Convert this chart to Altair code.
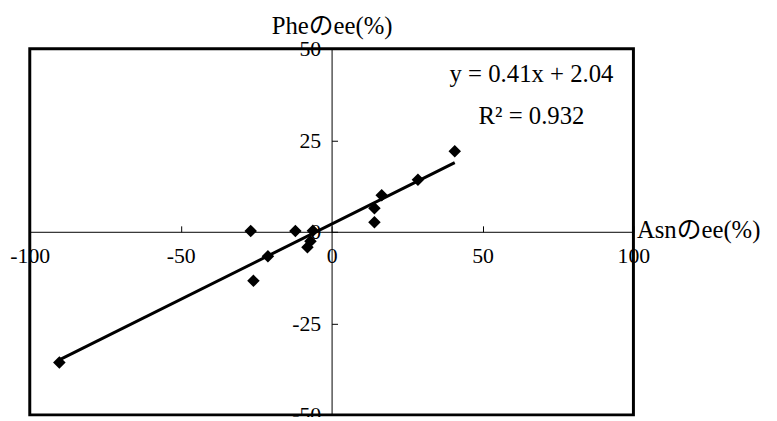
import altair as alt
import pandas as pd

# data
asn_ee = [-90.2, -26.8, -25.9, -21.1, -12.0, -6.2, -7.0, -8.0, 14.2, 14.2, 16.6, 28.6, 40.8]
phe_ee = [-35.7, 0.2, -13.4, -6.7, 0.2, 0.3, -2.6, -4.2, 6.4, 2.6, 10.0, 14.2, 22.0]
x_ticks = [-100, -50, 0, 50, 100]
y_ticks = [-50, -25, 0, 25, 50]
equation_lines = ["y = 0.41x + 2.04", "R\u00b2 = 0.932"]

FONT = "Liberation Serif, Noto Sans CJK JP, serif"

df = pd.DataFrame({"asn": asn_ee, "phe": phe_ee})

W, H = 610, 370

xscale = alt.Scale(domain=[-100, 100], nice=False, zero=False)
yscale = alt.Scale(domain=[-50, 50], nice=False, zero=False)

xaxis = alt.Axis(
    orient="top", offset=-H / 2, values=x_ticks, grid=False,
    tickSize=6, tickColor="black", tickWidth=1,
    domainColor="black", domainWidth=1,
    labelExpr="datum.value + ''",
    labelPadding=-20, labelBaseline="top", labelFlush=False, labelOverlap=False,
    labelBound=False, labelFontSize=22, labelFont=FONT, labelColor="black",
    title="Asn\u306eee(%)", titleFont=FONT, titleFontSize=25, titleFontWeight="normal",
    titleColor="black", titleAngle=0, titleX=613, titleY=-2,
    titleAlign="left", titleBaseline="middle",
)
yaxis = alt.Axis(
    orient="right", offset=-W / 2, values=y_ticks, grid=False,
    tickSize=6, tickColor="black", tickWidth=1,
    domainColor="black", domainWidth=1,
    labelExpr="datum.value + ''",
    labelPadding=-17, labelAlign="right", labelBaseline="middle", labelFlush=False,
    labelOverlap=False, labelBound=False, labelFontSize=22, labelFont=FONT,
    labelColor="black",
    title="Phe\u306eee(%)", titleFont=FONT, titleFontSize=25, titleFontWeight="normal",
    titleColor="black", titleAngle=0, titleX=0, titleY=-23,
    titleAlign="center", titleBaseline="middle",
)

base = alt.Chart(df)

points = base.mark_point(shape="diamond", filled=True, color="black", size=160, opacity=1).encode(
    x=alt.X("asn:Q", scale=xscale, axis=xaxis),
    y=alt.Y("phe:Q", scale=yscale, axis=yaxis),
)

trend = base.transform_regression("asn", "phe").mark_line(color="black", strokeWidth=3).encode(
    x=alt.X("asn:Q", scale=xscale),
    y=alt.Y("phe:Q", scale=yscale),
)

eq_df = pd.DataFrame({"t": [equation_lines[0]]})
r2_df = pd.DataFrame({"t": [equation_lines[1]]})
eq = alt.Chart(eq_df).mark_text(font=FONT, fontSize=25, color="black", align="center", baseline="middle").encode(
    text="t:N", x=alt.value(507), y=alt.value(26)
)
r2 = alt.Chart(r2_df).mark_text(font=FONT, fontSize=25, color="black", align="center", baseline="middle").encode(
    text="t:N", x=alt.value(507), y=alt.value(68)
)

chart = alt.layer(trend, points, eq, r2).properties(
    width=W, height=H,
    autosize=alt.AutoSizeParams(type="none"),
    padding={"left": 22, "top": 39, "right": 137, "bottom": 0},
    background="white",
).configure_view(stroke="black", strokeWidth=3)

chart.save("out.html", embed_options={"renderer": "svg", "actions": False})
